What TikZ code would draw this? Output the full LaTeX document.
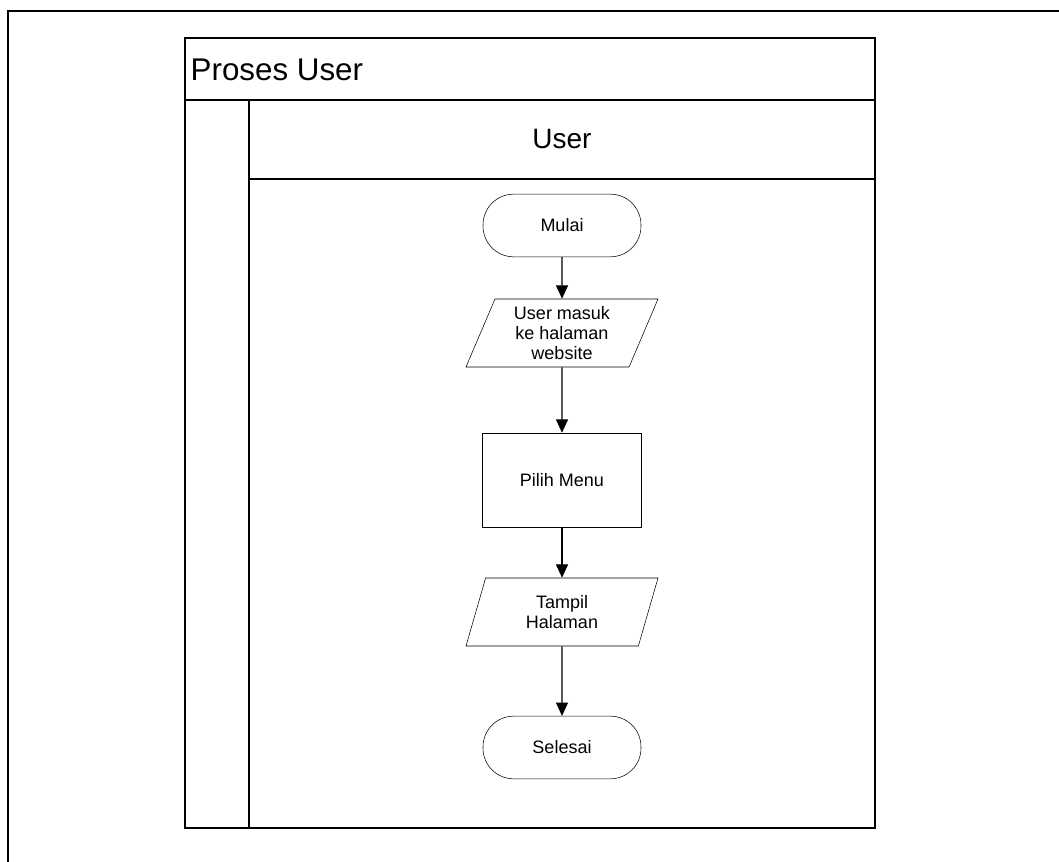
\documentclass[tikz,border=0pt]{standalone}
\usepackage{fontspec}
\setmainfont{Liberation Sans}
\usetikzlibrary{shapes.geometric, arrows.meta, positioning}

\begin{document}
\begin{tikzpicture}[x=0.75pt, y=-0.75pt,
    terminal/.style={draw, rectangle, rounded corners=23pt, minimum width=118.5pt, minimum height=47pt, font=\fontsize{13.5}{15}\selectfont},
    io/.style={draw, trapezium, trapezium left angle=65, trapezium right angle=115, trapezium stretches body, minimum width=144pt, minimum height=51pt, inner xsep=0pt, align=center, font=\fontsize{13.5}{15}\selectfont},
    process/.style={draw, rectangle, minimum width=119pt, minimum height=70.5pt, font=\fontsize{13.5}{15}\selectfont},
    flow/.style={-{Triangle[width=9pt,length=10pt]}, line width=0.8pt},
    pool/.style={line width=1.2pt}]
    \useasboundingbox (0,0) rectangle (1059,862);

    % Define the corners of the pool
    \coordinate (TL) at (185,38);
    \coordinate (BR) at (875,828);

    % Draw the page frame
    \draw[line width=1.5pt] (8,862) -- (8,11) -- (1059,11);

    % Draw the pool and the lane
    \draw[pool] (TL) rectangle (BR);
    \draw[pool] (185,100) -- (875,100);
    \draw[pool] (249,100) -- (249,828);
    \draw[pool] (249,179) -- (875,179);
    \node[anchor=west, font=\fontsize{23.5}{28}\selectfont] (judul) at (186,70) {Proses User};
    \node[font=\fontsize{21}{25}\selectfont] (lane) at (562,139) {User};

    % Draw the flow
    \node[terminal] (mulai) at (562,225.5) {Mulai};
    \node[io] (masuk) at (562,333) {User masuk\\ke halaman\\website};
    \node[process] (menu) at (562,480) {Pilih Menu};
    \node[io] (tampil) at (562,612) {Tampil\\Halaman};
    \node[terminal] (selesai) at (562,747.5) {Selesai};

    \draw[flow] (mulai) -- (masuk);
    \draw[flow] (masuk) -- (menu);
    \draw[flow] (menu) -- (tampil);
    \draw[flow] (tampil) -- (selesai);
\end{tikzpicture}
\end{document}
